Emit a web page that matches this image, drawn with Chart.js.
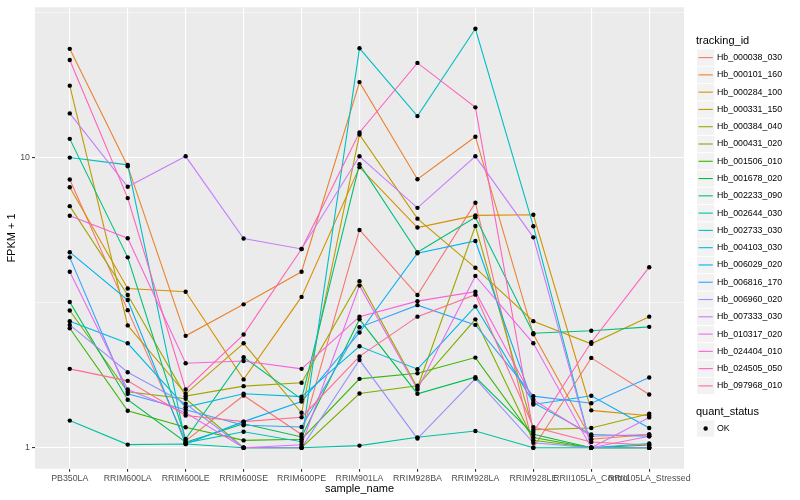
<!DOCTYPE html>
<html><head><meta charset="utf-8">
<script src="https://cdn.jsdelivr.net/npm/chart.js@4.4.0/dist/chart.umd.min.js"></script>
<style>html,body{margin:0;padding:0;background:#fff;}#c{display:block;}</style>
</head><body>
<canvas id="c" width="800" height="500"></canvas>
<script>
const categories = ['PB350LA','RRIM600LA','RRIM600LE','RRIM600SE','RRIM600PE','RRIM901LA','RRIM928BA','RRIM928LA','RRIM928LE','RRII105LA_Control','RRII105LA_Stressed'];
const trackingIds = ['Hb_000038_030','Hb_000101_160','Hb_000284_100','Hb_000331_150','Hb_000384_040','Hb_000431_020','Hb_001506_010','Hb_001678_020','Hb_002233_090','Hb_002644_030','Hb_002733_030','Hb_004103_030','Hb_006029_020','Hb_006816_170','Hb_006960_020','Hb_007333_030','Hb_010317_020','Hb_024404_010','Hb_024505_050','Hb_097968_010'];
const colors = ['#F8766D','#EA8331','#D89000','#C09B00','#A3A500','#7CAE00','#39B600','#00BB4E','#00BF7D','#00C1A3','#00BFC4','#00BAE0','#00B0F6','#35A2FF','#9590FF','#C77CFF','#E76BF3','#FA62DB','#FF62BC','#FF6C91'];
const yTicks = [1, 10];
const yMinor = [3.1623, 31.623];

const Hb_000038_030 = [8.4, 2.98, 1.055, 1.514, 1.11, 5.63, 3.36, 6.99, 1.0, 2.04, 1.526];
const Hb_000101_160 = [23.7, 9.34, 2.43, 3.12, 4.04, 18.2, 8.42, 11.8, 2.46, 1.07, 1.11];
const Hb_000284_100 = [7.9, 3.54, 3.45, 1.72, 3.31, 9.27, 5.74, 6.32, 6.35, 1.345, 1.289];
const Hb_000331_150 = [17.7, 2.64, 1.534, 2.29, 1.32, 12.0, 6.16, 4.17, 2.73, 2.28, 2.83];
const Hb_000384_040 = [6.8, 3.36, 1.506, 1.63, 1.675, 3.75, 1.609, 5.81, 1.154, 1.169, 1.31];
const Hb_000431_020 = [2.97, 1.559, 1.475, 1.0, 1.0, 1.538, 1.635, 2.77, 1.061, 1.0, 1.0];
const Hb_001506_010 = [2.58, 1.341, 1.176, 1.06, 1.07, 1.727, 1.805, 2.045, 1.084, 1.0, 1.0];
const Hb_001678_020 = [3.18, 1.464, 1.045, 1.21, 1.089, 2.77, 1.534, 1.75, 1.112, 1.0, 1.022];
const Hb_002233_090 = [11.6, 4.53, 1.072, 2.05, 1.47, 9.49, 4.72, 6.23, 2.48, 2.53, 2.61];
const Hb_002644_030 = [1.24, 1.025, 1.03, 1.0, 1.0, 1.017, 1.086, 1.142, 1.0, 1.0, 1.0];
const Hb_002733_030 = [10.0, 9.44, 1.039, 1.135, 1.049, 23.8, 13.9, 27.8, 5.80, 1.0, 1.034];
const Hb_004103_030 = [2.73, 2.29, 1.38, 1.534, 1.50, 2.236, 1.865, 3.07, 1.43, 1.11, 1.095];
const Hb_006029_020 = [4.72, 3.23, 1.03, 1.23, 1.443, 2.495, 4.68, 5.16, 1.41, 1.51, 1.169];
const Hb_006816_170 = [4.53, 1.534, 1.352, 1.195, 1.179, 2.6, 3.10, 2.65, 1.506, 1.424, 1.745];
const Hb_006960_020 = [2.65, 1.82, 1.418, 1.0, 1.0, 2.005, 1.075, 1.73, 1.04, 1.0, 1.0];
const Hb_007333_030 = [14.2, 7.93, 10.1, 5.26, 4.84, 10.1, 6.71, 10.1, 5.31, 1.0, 1.272];
const Hb_010317_020 = [4.04, 1.588, 1.32, 1.0, 1.024, 3.62, 1.588, 3.91, 2.29, 1.0, 1.095];
const Hb_024404_010 = [6.3, 5.27, 1.955, 1.99, 1.87, 2.83, 3.20, 3.45, 1.464, 1.095, 1.11];
const Hb_024505_050 = [21.7, 7.25, 1.588, 2.455, 4.84, 12.2, 21.2, 14.9, 1.133, 2.31, 4.19];
const Hb_097968_010 = [1.87, 1.70, 1.292, 1.23, 1.274, 2.064, 2.83, 3.37, 1.178, 1.047, 1.022];

const seriesValues = [Hb_000038_030, Hb_000101_160, Hb_000284_100, Hb_000331_150, Hb_000384_040, Hb_000431_020, Hb_001506_010, Hb_001678_020, Hb_002233_090, Hb_002644_030, Hb_002733_030, Hb_004103_030, Hb_006029_020, Hb_006816_170, Hb_006960_020, Hb_007333_030, Hb_010317_020, Hb_024404_010, Hb_024505_050, Hb_097968_010];

const FONT = "'Liberation Sans', Arial, sans-serif";
const toXY = vals => vals.map((v, i) => ({x: i, y: v}));

const lineSets = seriesValues.map((vals, k) => ({
  label: trackingIds[k], data: toXY(vals), borderColor: colors[k], backgroundColor: colors[k],
  borderWidth: 1.1, pointRadius: 0, showLine: true, fill: false, tension: 0, order: 100 - k
}));
const pointSets = seriesValues.map((vals, k) => ({
  label: trackingIds[k] + ' pts', data: toXY(vals), showLine: false, pointRadius: 2.2,
  pointStyle: 'circle', pointBackgroundColor: '#000', pointBorderColor: '#000', pointBorderWidth: 0, order: 0
}));

const panelBg = {
  id: 'panelBg',
  beforeDraw(chart) {
    const {ctx, chartArea: a} = chart;
    ctx.save(); ctx.fillStyle = '#EBEBEB';
    ctx.fillRect(a.left, a.top, a.right - a.left, a.bottom - a.top); ctx.restore();
  }
};

const ggLegend = {
  id: 'ggLegend',
  afterDraw(chart) {
    const ctx = chart.ctx;
    ctx.save();
    ctx.textBaseline = 'middle'; ctx.textAlign = 'left';
    ctx.fillStyle = '#000'; ctx.font = '11px ' + FONT;
    ctx.fillText('tracking_id', 696, 40.5);
    const x0 = 697, step = 17.28, y0 = 57.6;
    trackingIds.forEach((id, k) => {
      const cy = y0 + k * step;
      ctx.fillStyle = '#F2F2F2'; ctx.fillRect(x0, cy - 8.1, 17.3, 16.3);
      ctx.strokeStyle = colors[k]; ctx.lineWidth = 1.1;
      ctx.beginPath(); ctx.moveTo(x0 + 1.5, cy); ctx.lineTo(x0 + 15.8, cy); ctx.stroke();
      ctx.fillStyle = '#000'; ctx.font = '8.8px ' + FONT;
      ctx.fillText(id, 717, cy);
    });
    ctx.font = '11px ' + FONT; ctx.fillStyle = '#000';
    ctx.fillText('quant_status', 696, 411.5);
    const cy2 = 428.5;
    ctx.fillStyle = '#F2F2F2'; ctx.fillRect(x0, cy2 - 8.1, 17.3, 16.3);
    ctx.fillStyle = '#000'; ctx.beginPath(); ctx.arc(x0 + 8.65, cy2, 2.2, 0, Math.PI * 2); ctx.fill();
    ctx.font = '8.8px ' + FONT; ctx.fillText('OK', 717, cy2);
    ctx.restore();
  }
};

new Chart(document.getElementById('c'), {
  type: 'scatter',
  data: { datasets: [...lineSets, ...pointSets] },
  options: {
    responsive: false, animation: false, devicePixelRatio: 1,
    layout: { padding: { left: 0, top: 5, right: 116, bottom: 0 } },
    plugins: { legend: { display: false }, tooltip: { enabled: false } },
    scales: {
      x: {
        type: 'linear', min: -0.6, max: 10.6,
        afterBuildTicks: s => { s.ticks = categories.map((_, i) => ({value: i})); },
        afterFit: s => { s.height = 31.3; },
        ticks: { autoSkip: false, maxRotation: 0, minRotation: 0, padding: 1.5, color: '#4D4D4D',
          font: { family: FONT, size: 8.8 }, callback: v => categories[v] },
        grid: { color: '#FFFFFF', lineWidth: 1.1, tickColor: '#333333', tickLength: 3, drawOnChartArea: true },
        border: { display: false },
        title: { display: true, text: 'sample_name', color: '#000', font: { family: FONT, size: 11 }, padding: { top: 0, bottom: 4.5 } }
      },
      y: {
        type: 'logarithmic', min: Math.pow(10, -0.0723), max: Math.pow(10, 1.518),
        afterBuildTicks: s => { s.ticks = [...yTicks, ...yMinor].sort((a, b) => a - b).map(v => ({value: v})); },
        afterFit: s => { s.width = 35; },
        ticks: { padding: 2, color: '#4D4D4D', font: { family: FONT, size: 8.8 },
          callback: v => yTicks.includes(v) ? String(v) : '' },
        grid: {
          color: '#FFFFFF',
          lineWidth: c => (c.tick && yTicks.includes(c.tick.value)) ? 1.1 : 0.55,
          tickColor: c => (c.tick && yTicks.includes(c.tick.value)) ? '#333333' : 'rgba(0,0,0,0)',
          tickLength: 3
        },
        border: { display: false },
        title: { display: true, text: 'FPKM + 1', color: '#000', font: { family: FONT, size: 11 }, padding: { top: 5.5, bottom: 0 } }
      }
    }
  },
  plugins: [panelBg, ggLegend]
});
</script>
</body></html>
